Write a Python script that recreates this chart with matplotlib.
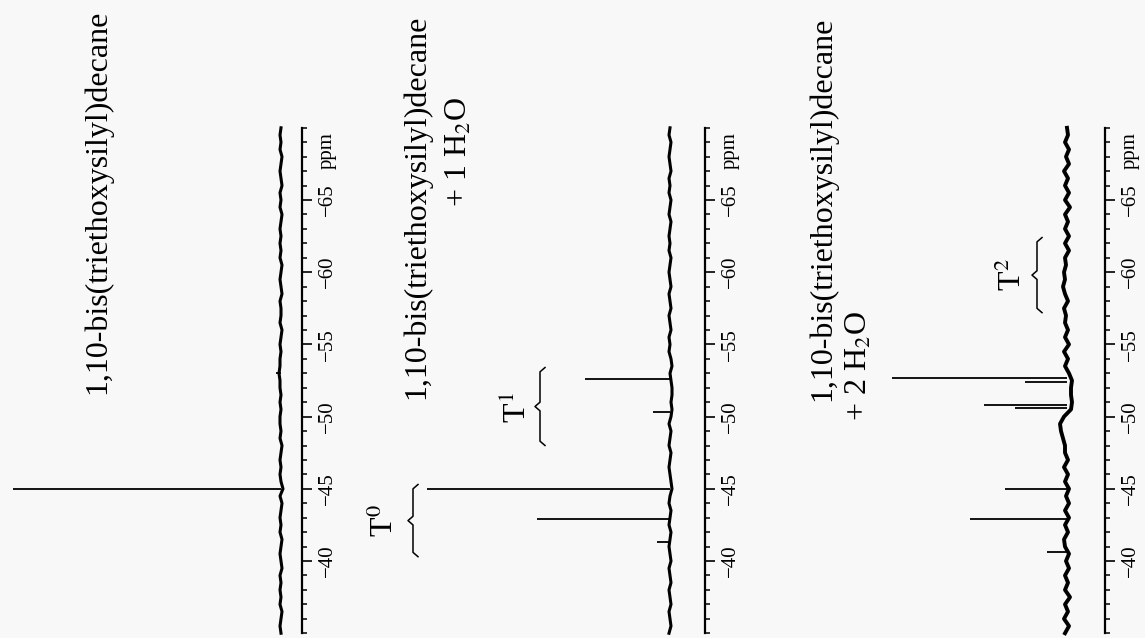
import numpy as np
import matplotlib.pyplot as plt

plt.rcParams['font.family'] = ['Liberation Serif', 'DejaVu Serif']
plt.rcParams['mathtext.fontset'] = 'stix'

W, H = 1145, 638

# ppm scale
ppm_major = [-40, -45, -50, -55, -60, -65]
ppm_lo, ppm_hi = -35, -70

# 29Si peaks: shift (ppm) and height (arb.)
shift_0 = [-45.0, -53.0]
height_0 = [268, 5]
shift_1 = [-41.3, -42.9, -45.0, -50.3, -52.6]
height_1 = [13, 133, 243, 17, 85]
shift_2 = [-40.6, -42.9, -45.0, -50.6, -50.8, -52.4, -52.7]
height_2 = [20, 97, 62, 52, 83, 42, 175]

# baseline wobble, one value per 0.5 ppm (-35 ... -70)
base_0 = [0, 1, 0, -1, 1, 0, 1, 0, 1, -1, 0, 1, 0, -1, 1, 0, 1, 0, -1, 1,
          -2, 0, 1, 0, 1, 0, -1, 1, 0, 1, 1, 0, 1, 0, 1, 1, 2, 1, 1, 0,
          1, 0, -1, 1, 0, 0, 1, -1, 0, 1, 0, -1, 1, 0, 1, 0, 1, 0, -1, 1,
          0, 1, -1, 0, 1, 0, -1, 1, 0, 1, 0]
base_1 = [1, -1, 0, 1, -1, 0, 1, -1, 0, 1, -1, 0, 1, 0, -1, 1, 0, -1, 1, 0,
          -2, -1, 0, 1, 0, -1, 1, 0, -1, 1, -1, -2, -1, -2, -2, -1, 0, -2, -1, 1,
          0, 1, -1, 0, 1, -1, 0, 1, -1, 0, 1, 0, -1, 1, 0, 1, 0, -1, 1, 0,
          -1, 1, 0, 1, -1, 0, 1, 0, -1, 1, 0]
base_2 = [2, -2, 3, -1, 2, -3, 2, -1, 2, -2,
          1, -2, 2, 3, -1, 2, -2, 2, -2, 1,
          -2, 2, -1, 3, -1, 2, 2, 4, 6, 7,
          3, -4, -5, -4, -4, -5, -2, 2, -1, 3,
          -2, 2, -1, 2, 1, 3, -1, 2, 4, 2,
          3, 1, 2, -2, 2, -2, 2, -1, 2, -3,
          2, -2, 2, -1, 3, -2, 1, -2, 2, -1, 0]

titles = [
    [("1,10-bis(triethoxysilyl)decane", 184, -64.9)],
    [("1,10-bis(triethoxysilyl)decane", 253, -64.5),
     (r"+ 1 H$_2$O", 211, -68.3)],
    [("1,10-bis(triethoxysilyl)decane", 244, -64.4),
     (r"+ 2 H$_2$O", 208, -53.5)],
]

# species brackets: (panel, label, x, ppm from, ppm to, label x, label ppm)
brackets = [
    (1, r"T$^0$", 257, -45.3, -40.3, 285, -42.8),
    (1, r"T$^1$", 130, -53.4, -48.0, 153, -50.6),
    (2, r"T$^2$", 30, -62.4, -57.2, 54, -59.8),
]

# pixel layout: left edge, trace baseline, ppm axis
layout = [(0, 281, 302), (380, 670, 705), (760, 1067, 1105)]
shifts = [shift_0, shift_1, shift_2]
heights = [height_0, height_1, height_2]
bases = [base_0, base_1, base_2]
base_lw = [2.2, 2.2, 2.8]

fig = plt.figure(figsize=(W / 100, H / 100), dpi=100, facecolor='#f8f8f8')


def brace(ax, x, y0, y1, size=5):
    s = np.sign(y1 - y0)
    ym = (y0 + y1) / 2
    xs = [x - size, x, x, x + size, x, x, x - size]
    ys = [y0, y0 + 0.3 * s, ym - 0.3 * s, ym, ym + 0.3 * s, y1 - 0.3 * s, y1]
    ax.plot(xs, ys, color='black', lw=1.1, clip_on=False)


axes = []
for i, (left, base_x, axis_x) in enumerate(layout):
    ax = fig.add_axes([left / W, 0, (axis_x - left) / W, 1])
    ax.patch.set_alpha(0)
    ax.set_xlim(base_x - left, base_x - axis_x)
    ax.set_ylim(-34.67, -78.85)

    b = bases[i]
    grid = np.linspace(ppm_lo, ppm_hi, len(b))
    ax.plot(b, grid, color='black', lw=base_lw[i])
    ax.hlines(shifts[i], 0, heights[i], color='black', lw=1.3)

    for sp in ['left', 'top', 'bottom']:
        ax.spines[sp].set_visible(False)
    ax.spines['right'].set_bounds(ppm_hi, ppm_lo)
    ax.spines['right'].set_linewidth(1.6)
    ax.set_xticks([])
    ax.yaxis.tick_right()
    ax.set_yticks(ppm_major)
    ax.set_yticklabels(['\u2212' + str(abs(v)) for v in ppm_major])
    ax.set_yticks(np.arange(ppm_lo, ppm_hi - 1, -1), minor=True)
    ax.tick_params(axis='y', which='major', length=7.2, width=1.2, pad=4.3,
                   labelsize=15, labelrotation=90)
    ax.tick_params(axis='y', which='minor', length=3.6, width=1.1)
    for lab in ax.get_yticklabels():
        lab.set_va('center')
    ax.annotate('ppm', xy=(1, -68.4), xycoords=('axes fraction', 'data'),
                xytext=(11.5, 0), textcoords='offset points', rotation=90,
                ha='left', va='center', fontsize=15)

    for txt, tx, ty in titles[i]:
        ax.text(tx, ty, txt, rotation=90, ha='center', va='center',
                fontsize=23, clip_on=False)
    axes.append(ax)

for p, lab, bx, y0, y1, lx, ly in brackets:
    brace(axes[p], bx, y0, y1)
    axes[p].text(lx, ly, lab, rotation=90, ha='center', va='center',
                 fontsize=23, clip_on=False)

fig.savefig('out.png', dpi=100, facecolor=fig.get_facecolor())
